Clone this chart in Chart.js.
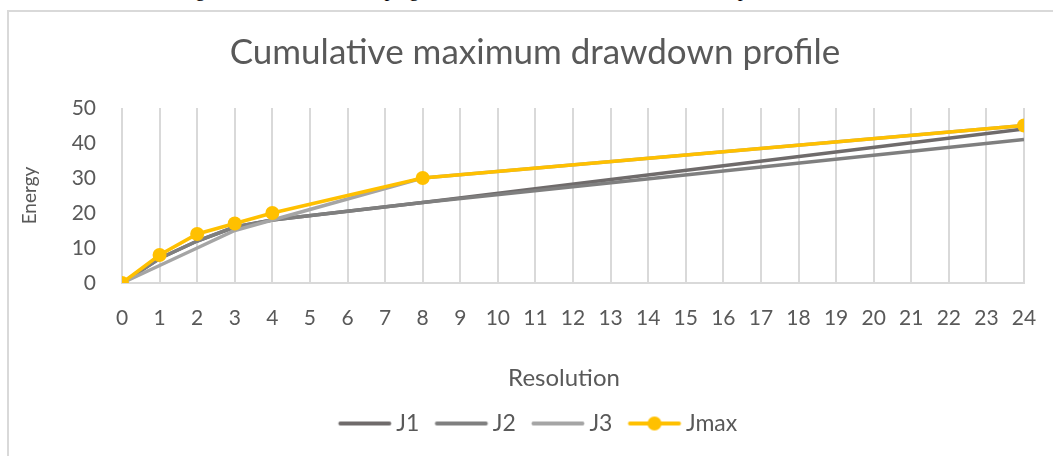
<!DOCTYPE html>
<html>
<head>
<meta charset="utf-8">
<style>
  html, body { margin: 0; padding: 0; background: #fff; overflow: hidden; width: 1053px; height: 456px; }
  #doc-line { position: absolute; left: -18px; top: -22px; font-family: "Liberation Serif", serif; font-size: 20px; color: #000; white-space: nowrap; }
  #frame { position: absolute; left: 7px; top: 10px; width: 1100px; height: 500px; border-left: 2px solid #d9d9d9; border-top: 2px solid #d9d9d9; box-sizing: border-box; }
  #wrap { position: absolute; left: 0; top: 0; width: 1060px; height: 456px; }
</style>
<script src="https://cdn.jsdelivr.net/npm/chart.js@4"></script>
</head>
<body>
<div id="doc-line">demand encountered during the measurement campaign, the maximum cumulative drawdown profile</div>
<div id="frame"></div>
<div id="wrap"><canvas id="chart" width="1060" height="456"></canvas></div>
<script>
// Resolution steps and cumulative drawdown energy per profile
const resolution = [0, 1, 2, 3, 4, 8, 24];
const j1 = [0, 7, 12, 16, 18, 23, 44];
const j2 = [0, 7, 12, 16, 18, 23, 41];
const j3 = [0, 5, 10, 15, 18, 30, 45];
const jmax = [0, 8, 14, 17, 20, 30, 45];
const seriesNames = ['J1', 'J2', 'J3', 'Jmax'];
const seriesColors = ['#6f6b6b', '#7f7f7f', '#a5a5a5', '#ffc000'];

const FONT = 'Lato, "Liberation Sans", sans-serif';
const TEXT = '#595959';

function points(values) {
  return resolution.map((x, i) => ({ x: x, y: values[i] }));
}

// Legend swatch: short line, with a dot for the marked series
function swatch(color, withDot) {
  const c = document.createElement('canvas');
  c.width = 80; c.height = 16;
  const g = c.getContext('2d');
  g.strokeStyle = color;
  g.lineWidth = 4;
  g.lineCap = 'round';
  g.beginPath(); g.moveTo(21.5, 8); g.lineTo(70.5, 8); g.stroke();
  if (withDot) {
    g.fillStyle = color;
    g.beginPath(); g.arc(46, 8, 7, 0, Math.PI * 2); g.fill();
  }
  return c;
}

const allSeries = [j1, j2, j3, jmax];
const datasets = allSeries.map((vals, i) => ({
  label: seriesNames[i],
  data: points(vals),
  borderColor: seriesColors[i],
  backgroundColor: seriesColors[i],
  borderWidth: 3.5,
  showLine: true,
  pointRadius: i === 3 ? 7 : 0,
  pointHoverRadius: i === 3 ? 7 : 0,
  pointBorderWidth: 0,
  order: i === 3 ? 0 : 4 - i,
  _swatch: swatch(seriesColors[i], i === 3)
}));

new Chart(document.getElementById('chart'), {
  type: 'scatter',
  data: { datasets: datasets },
  options: {
    responsive: false,
    animation: false,
    events: [],
    layout: { padding: { left: 12, right: 2, top: 0, bottom: 11 } },
    plugins: {
      title: {
        display: true,
        text: 'Cumulative maximum drawdown profile',
        color: TEXT,
        font: { family: FONT, size: 35, weight: 'normal' },
        padding: { top: 32, bottom: 34 }
      },
      legend: {
        position: 'bottom',
        labels: {
          usePointStyle: true,
          pointStyleWidth: 52,
          boxHeight: 16,
          padding: 10,
          color: TEXT,
          font: { family: FONT, size: 23 },
          generateLabels: (chart) => chart.data.datasets.map((ds, i) => ({
            text: ds.label,
            pointStyle: ds._swatch,
            fillStyle: ds.borderColor,
            strokeStyle: ds.borderColor,
            lineWidth: 0,
            hidden: false,
            datasetIndex: i,
            fontColor: TEXT
          }))
        }
      },
      tooltip: { enabled: false }
    },
    scales: {
      x: {
        type: 'linear',
        min: 0,
        max: 24,
        afterFit: (s) => { s.height = 119; },
        ticks: {
          stepSize: 1,
          autoSkip: false,
          maxRotation: 0,
          padding: 23,
          color: TEXT,
          font: { family: FONT, size: 21 }
        },
        grid: { color: '#d9d9d9', lineWidth: 2, drawTicks: false },
        border: { display: true, color: '#d9d9d9', width: 2 },
        title: {
          display: true,
          // em space after the word nudges the centred title left of the axis midpoint
          text: 'Resolution\u2003',
          color: TEXT,
          font: { family: FONT, size: 24 },
          padding: { top: 0, bottom: 9 }
        }
      },
      y: {
        min: 0,
        max: 50,
        afterFit: (s) => { s.width = 110; },
        ticks: {
          stepSize: 10,
          padding: 18,
          color: TEXT,
          font: { family: FONT, size: 21 }
        },
        grid: { display: false },
        border: { display: false },
        title: {
          display: true,
          text: 'Energy',
          color: TEXT,
          font: { family: FONT, size: 19 },
          padding: { top: 6, bottom: 0 }
        }
      },
      yRight: {
        position: 'right',
        display: true,
        afterFit: (s) => { s.width = 34; },
        ticks: { display: false },
        grid: { display: false },
        border: { display: false }
      }
    }
  }
});
</script>
</body>
</html>
